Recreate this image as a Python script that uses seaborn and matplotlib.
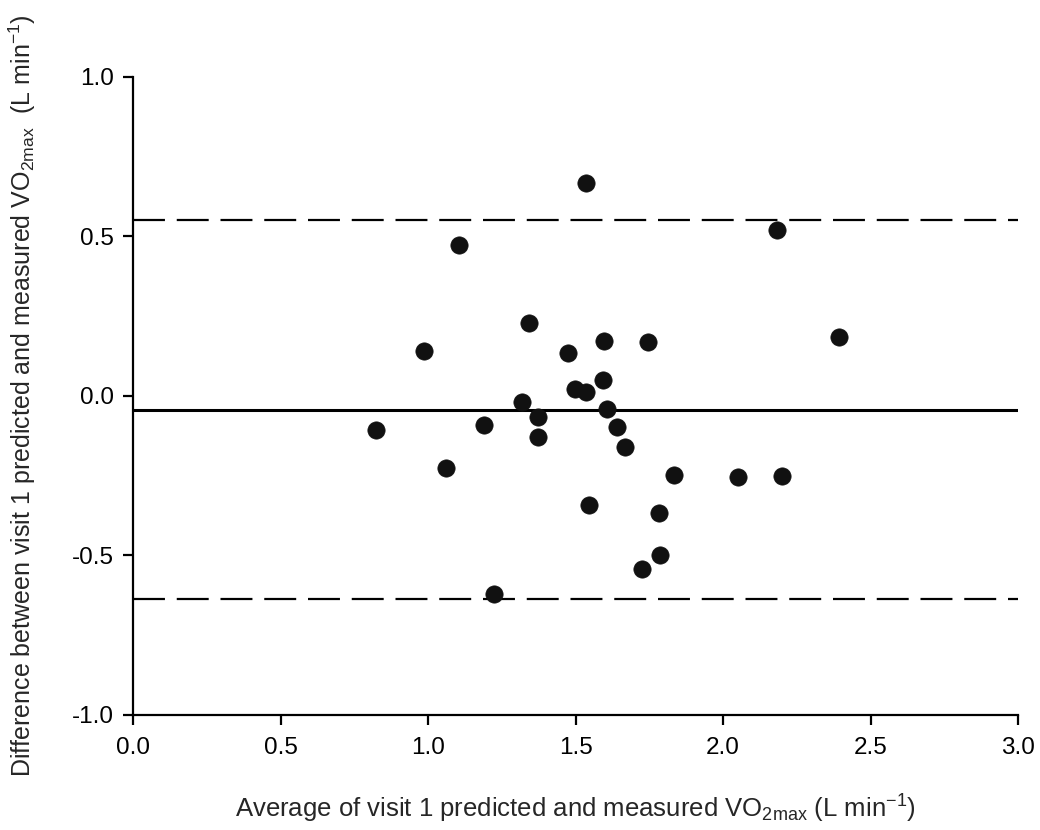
import matplotlib
matplotlib.use("Agg")
import matplotlib.pyplot as plt
import seaborn as sns
import pandas as pd

# Bland-Altman data: mean of predicted/measured VO2max vs their difference (L/min)
avg_vo2 = [0.823, 0.985, 1.060, 1.104, 1.189, 1.222, 1.317, 1.341, 1.371, 1.371,
           1.473, 1.497, 1.534, 1.534, 1.544, 1.592, 1.595, 1.605, 1.639, 1.666,
           1.724, 1.744, 1.781, 1.785, 1.832, 2.049, 2.181, 2.201, 2.394]
diff_vo2 = [-0.107, 0.141, -0.226, 0.473, -0.091, -0.621, -0.019, 0.229, -0.066, -0.129,
            0.135, 0.022, 0.013, 0.668, -0.342, 0.050, 0.172, -0.041, -0.097, -0.160,
            -0.542, 0.169, -0.367, -0.498, -0.248, -0.254, 0.520, -0.251, 0.185]

bias = -0.044
upper_loa = 0.553
lower_loa = -0.637

x_ticks = [0.0, 0.5, 1.0, 1.5, 2.0, 2.5, 3.0]
y_ticks = [-1.0, -0.5, 0.0, 0.5, 1.0]

sns.set_style("ticks")
plt.rcParams["font.family"] = ["Liberation Sans", "DejaVu Sans"]
plt.rcParams["mathtext.fontset"] = "custom"
plt.rcParams["mathtext.rm"] = "Liberation Sans"
plt.rcParams["mathtext.default"] = "regular"
plt.rcParams["axes.unicode_minus"] = False
plt.rcParams["lines.scale_dashes"] = False

df = pd.DataFrame({"avg": avg_vo2, "diff": diff_vo2})

fig = plt.figure(figsize=(10.4, 8.3), dpi=100)
ax = fig.add_axes([0.128, 0.1386, 0.851, 0.7687])

ax.plot([0, 3.0], [bias, bias], color="black", lw=2.2, zorder=1)
ax.plot([0, 3.0], [upper_loa, upper_loa], color="black", lw=1.6,
        dashes=(23, 8.5), zorder=1)
ax.plot([0, 3.0], [lower_loa, lower_loa], color="black", lw=1.6,
        dashes=(23, 8.5), zorder=1)

sns.scatterplot(data=df, x="avg", y="diff", ax=ax, color="#111111",
                edgecolor="#111111", s=155, linewidth=0.5, zorder=3)

ax.set_xlim(0, 3.0)
ax.set_ylim(-1.0, 1.0)
ax.set_xticks(x_ticks)
ax.set_yticks(y_ticks)
ax.set_xticklabels([f"{v:.1f}" for v in x_ticks])
ax.set_yticklabels([f"{v:.1f}" for v in y_ticks])

for side in ("top", "right"):
    ax.spines[side].set_visible(False)
for side in ("left", "bottom"):
    ax.spines[side].set_linewidth(1.6)
    ax.spines[side].set_color("black")

ax.tick_params(axis="both", direction="out", length=7, width=1.6,
               labelsize=17.5, colors="black")
ax.tick_params(axis="x", pad=9)
ax.tick_params(axis="y", pad=7)

ax.set_xlabel(r"Average of visit 1 predicted and measured VO$_{2max}$ (L min$^{-1}$)",
              fontsize=18.5, labelpad=24)
ax.set_ylabel(r"Difference between visit 1 predicted and measured VO$_{2max}$  (L min$^{-1}$)",
              fontsize=18, labelpad=24)

fig.savefig("out.png", dpi=100, facecolor="white")
